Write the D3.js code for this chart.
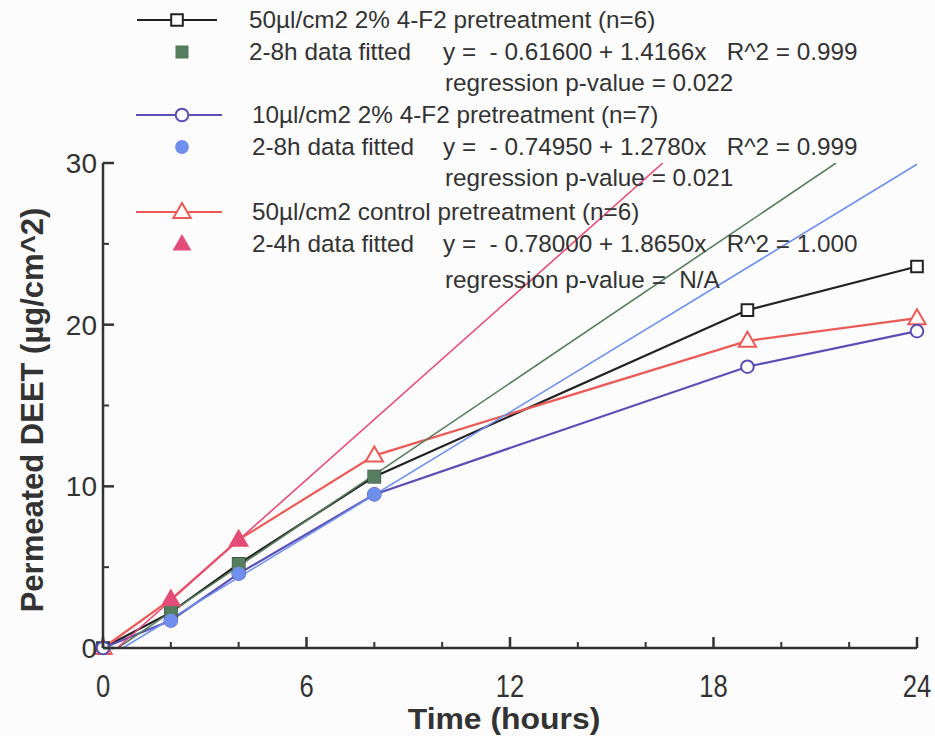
<!DOCTYPE html>
<html>
<head>
<meta charset="utf-8">
<script src="https://cdn.jsdelivr.net/npm/d3@7"></script>
<style>
  html, body { margin: 0; padding: 0; background: #fcfcfc; }
  svg { display: block; font-family: "Liberation Sans", Arial, sans-serif; }
</style>
</head>
<body>
<svg id="chart" width="935" height="736"></svg>
<script>
// Sampling times (hours)
const times = [0, 2, 4, 8, 19, 24];

// Cumulative permeated DEET (µg/cm^2) per pretreatment
const f2High = [0, 2.2, 5.2, 10.6, 20.9, 23.6];   // 50µl/cm2 2% 4-F2
const f2Low  = [0, 1.7, 4.6, 9.5, 17.4, 19.6];    // 10µl/cm2 2% 4-F2
const control = [0, 3.0, 6.7, 11.9, 19.0, 20.4];  // 50µl/cm2 control

// Linear fits: intercept, slope, and the hours used in each fit
const fitHigh = { a: -0.61600, b: 1.4166, hours: [2, 4, 8] };
const fitLow  = { a: -0.74950, b: 1.2780, hours: [2, 4, 8] };
const fitCtrl = { a: -0.78000, b: 1.8650, hours: [2, 4] };

const xTicks = [0, 6, 12, 18, 24];
const xMinor = [2, 4, 8, 10, 14, 16, 20, 22];
const yTicks = [0, 10, 20, 30];
const yMinor = [5, 15, 25];

const legendRows = [
  "50µl/cm2 2% 4-F2 pretreatment (n=6)",
  "2-8h data fitted",
  "y =  - 0.61600 + 1.4166x   R^2 = 0.999",
  "regression p-value = 0.022",
  "10µl/cm2 2% 4-F2 pretreatment (n=7)",
  "2-8h data fitted",
  "y =  - 0.74950 + 1.2780x   R^2 = 0.999",
  "regression p-value = 0.021",
  "50µl/cm2 control pretreatment (n=6)",
  "2-4h data fitted",
  "y =  - 0.78000 + 1.8650x   R^2 = 1.000",
  "regression p-value =  N/A"
];

const svg = d3.select("#chart");
const x = d3.scaleLinear().domain([0, 24]).range([103, 917]);
const y = d3.scaleLinear().domain([0, 30]).range([648, 163]);

const C = {
  black: "#222222", purple: "#5a4fb4", red: "#ea5a57",
  green: "#567d5d", blue: "#6f8fec", pink: "#e44d79", axis: "#333333"
};

const lineGen = d3.line().x(d => x(d[0])).y(d => y(d[1]));

svg.append("defs").append("clipPath").attr("id", "plot")
  .append("rect").attr("x", 103).attr("y", 163).attr("width", 814).attr("height", 485);

// Measured series lines
const series = [
  { vals: f2High, color: C.black, shape: "square" },
  { vals: control, color: C.red, shape: "triangle" },
  { vals: f2Low, color: C.purple, shape: "circle" }
];
series.forEach(s => {
  svg.append("path")
    .attr("d", lineGen(times.map((t, i) => [t, s.vals[i]])))
    .attr("fill", "none").attr("stroke", s.color).attr("stroke-width", 2.2);
});

// Fitted regression lines from the x-intercept up to the top of the plot
const fits = [
  { f: fitHigh, color: C.green, vals: f2High, shape: "square" },
  { f: fitLow, color: C.blue, vals: f2Low, shape: "circle" },
  { f: fitCtrl, color: C.pink, vals: control, shape: "triangle" }
];
fits.forEach(d => {
  const x0 = -d.f.a / d.f.b;
  const x1 = (30 - d.f.a) / d.f.b;
  svg.append("path")
    .attr("clip-path", "url(#plot)")
    .attr("d", lineGen([[x0, 0], [x1, 30]]))
    .attr("fill", "none").attr("stroke", d.color).attr("stroke-width", 1.6);
});

function symbolPath(shape, filled) {
  const type = shape === "square" ? d3.symbolSquare : shape === "circle" ? d3.symbolCircle : d3.symbolTriangle;
  const size = shape === "square" ? (filled ? 170 : 135) : shape === "circle" ? (filled ? 150 : 125) : (filled ? 155 : 130);
  return d3.symbol().type(type).size(size)();
}

function marker(g, shape, color, filled, cx, cy) {
  g.append("path")
    .attr("d", symbolPath(shape, filled))
    .attr("transform", `translate(${cx},${cy + (shape === "triangle" ? 1 : 0)})`)
    .attr("fill", filled ? color : "#fcfcfc")
    .attr("stroke", color).attr("stroke-width", filled ? 0 : 2);
}

// Open markers on the measured points
series.forEach(s => {
  times.forEach((t, i) => marker(svg, s.shape, s.color, false, x(t), y(s.vals[i])));
});
// Filled markers on the fitted points
fits.forEach(d => {
  d.f.hours.forEach(h => {
    const i = times.indexOf(h);
    marker(svg, d.shape, d.color, true, x(h), y(d.vals[i]));
  });
});

// Axes
const ax = svg.append("g").attr("stroke", C.axis).attr("stroke-width", 2.5);
ax.append("line").attr("x1", x(0)).attr("x2", x(24)).attr("y1", y(0)).attr("y2", y(0));
ax.append("line").attr("x1", x(0)).attr("x2", x(0)).attr("y1", y(0)).attr("y2", y(30));
xTicks.forEach(t => ax.append("line").attr("x1", x(t)).attr("x2", x(t)).attr("y1", y(0)).attr("y2", y(0) - 11));
xMinor.forEach(t => ax.append("line").attr("x1", x(t)).attr("x2", x(t)).attr("y1", y(0)).attr("y2", y(0) - 6).attr("stroke-width", 2));
yTicks.forEach(t => ax.append("line").attr("x1", x(0)).attr("x2", x(0) + 11).attr("y1", y(t)).attr("y2", y(t)));
yMinor.forEach(t => ax.append("line").attr("x1", x(0)).attr("x2", x(0) + 6).attr("y1", y(t)).attr("y2", y(t)).attr("stroke-width", 2));

// Tick labels
xTicks.forEach(t => {
  svg.append("text")
    .attr("transform", `translate(${x(t)},${y(0) + 49}) scale(0.8,1)`)
    .attr("text-anchor", "middle").attr("font-size", 32).attr("fill", "#333")
    .text(t);
});
yTicks.forEach(t => {
  svg.append("text")
    .attr("x", x(0) - 6).attr("y", y(t) + 10)
    .attr("text-anchor", "end").attr("font-size", 28).attr("fill", "#333")
    .text(t);
});

// Axis titles
svg.append("text")
  .attr("transform", `translate(504,729) scale(1.1,1)`)
  .attr("text-anchor", "middle").attr("font-size", 29).attr("font-weight", "bold").attr("fill", "#333")
  .text("Time (hours)");
svg.append("text")
  .attr("transform", `translate(43,410) rotate(-90)`)
  .attr("text-anchor", "middle").attr("font-size", 31).attr("font-weight", "bold").attr("fill", "#333")
  .text("Permeated DEET (µg/cm^2)");

// Legend
const lg = svg.append("g").attr("font-size", 24.3).attr("fill", "#333");
const legendItems = [
  { color: C.black, fill: C.green, shape: "square", y0: 20, lx: [137, 217], mx: 177, tx: 249 },
  { color: C.purple, fill: C.blue, shape: "circle", y0: 115, lx: [136, 222], mx: 182, tx: 252 },
  { color: C.red, fill: C.pink, shape: "triangle", y0: 212, lx: [136, 222], mx: 182, tx: 252 }
];
legendItems.forEach((it, k) => {
  lg.append("line").attr("x1", it.lx[0]).attr("x2", it.lx[1]).attr("y1", it.y0).attr("y2", it.y0)
    .attr("stroke", it.color).attr("stroke-width", 2);
  marker(lg, it.shape, it.color, false, it.mx, it.y0);
  marker(lg, it.shape, it.fill, true, 182, it.y0 + 32);
  const base = k * 4;
  const lastGap = k === 2 ? 68 : 63;
  lg.append("text").attr("x", it.tx).attr("y", it.y0 + 8).text(legendRows[base]);
  lg.append("text").attr("x", it.tx).attr("y", it.y0 + 40).text(legendRows[base + 1]);
  lg.append("text").attr("x", 443).attr("y", it.y0 + 40).text(legendRows[base + 2]).style("white-space", "pre");
  lg.append("text").attr("x", 445).attr("y", it.y0 + 8 + lastGap).text(legendRows[base + 3]).style("white-space", "pre");
});
</script>
</body>
</html>
